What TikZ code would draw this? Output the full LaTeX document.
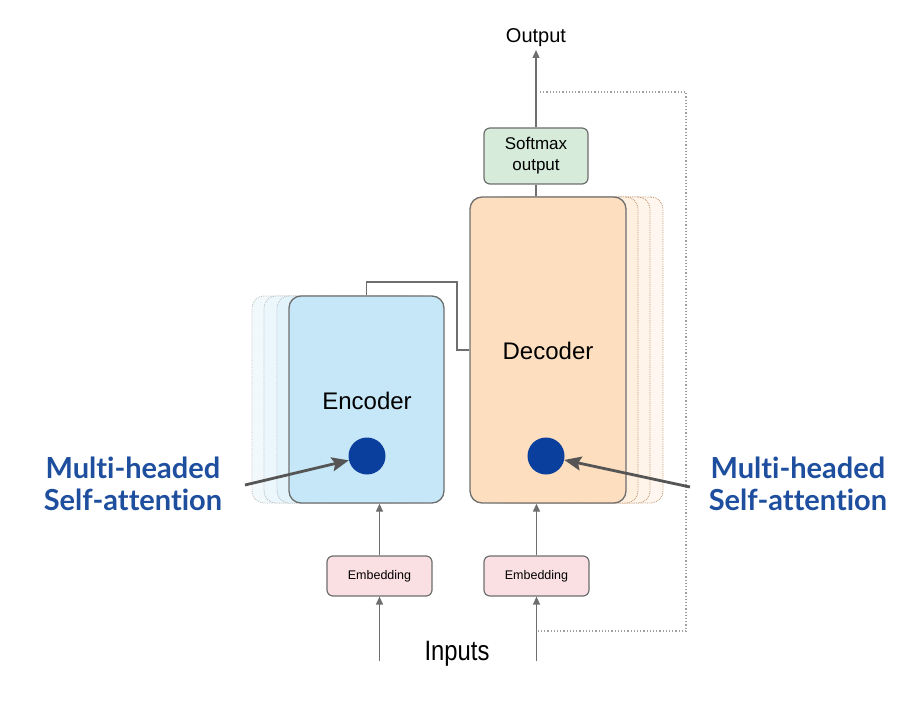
\documentclass[tikz,border=0pt]{standalone}
\usepackage{fontspec}
\setmainfont{Liberation Sans}
\newfontfamily\latofont{Lato}[Ligatures=NoCommon]
\usetikzlibrary{arrows.meta}
\definecolor{encfill}{HTML}{C6E7F7}
\definecolor{decfill}{HTML}{FDDFC0}
\definecolor{smfill}{HTML}{D6EBD9}
\definecolor{embfill}{HTML}{FADFE3}
\definecolor{boxline}{HTML}{6E6E6E}
\definecolor{dotline}{HTML}{A0A0A0}
\definecolor{dotblue}{HTML}{0B3F9E}
\definecolor{labblue}{HTML}{1E4E9E}
\definecolor{arrgray}{HTML}{555555}
\tikzset{
  bigbox/.style={draw=boxline, line width=1.3pt, rounded corners=12pt, inner sep=0pt},
  boxtext/.style={font=\fontsize{24}{28}\selectfont},
  shadowenc/.style={draw=dotline!70, densely dotted, line width=0.8pt, rounded corners=12pt, minimum width=155pt, minimum height=207pt, inner sep=0pt},
  shadowdec/.style={draw=orange!30!dotline, densely dotted, line width=0.8pt, rounded corners=12pt, minimum width=156pt, minimum height=306pt, inner sep=0pt},
  smallbox/.style={draw=boxline, line width=1.2pt, rounded corners=6pt, inner sep=0pt, align=center},
  attn/.style={circle, fill=dotblue, minimum size=37pt, inner sep=0pt},
  thinarrow/.style={draw=boxline, line width=1.3pt, -{Triangle[length=8pt,width=7pt]}},
  thinline/.style={draw=boxline, line width=1.3pt},
  bigarrow/.style={draw=arrgray, line width=2.8pt, -{Stealth[length=17pt,width=14pt,inset=3pt]}},
  feedback/.style={draw=dotline, dotted, line width=1.2pt},
  attnlabel/.style={text=labblue, font=\latofont\bfseries\fontsize{29}{32}\selectfont, align=center}
}
\begin{document}
\begin{tikzpicture}[x=1pt,y=-1pt]
\useasboundingbox (0,0) rectangle (920,703);
% encoder shadows
\node[shadowenc, fill=encfill!25] (es3) at (329.5,399.5) {};
\node[shadowenc, fill=encfill!35] (es2) at (341.5,399.5) {};
\node[shadowenc, fill=encfill!50] (es1) at (354.5,399.5) {};
% decoder shadows
\node[shadowdec, fill=decfill!25] (ds3) at (585,350) {};
\node[shadowdec, fill=decfill!35] (ds2) at (572,350) {};
\node[shadowdec, fill=decfill!50] (ds1) at (560,350) {};
% main boxes
\node[bigbox, fill=encfill, minimum width=155pt, minimum height=207pt] (enc) at (366.5,399.5) {};
\node[boxtext] (enctext) at (367,401) {Encoder};
\node[bigbox, fill=decfill, minimum width=156pt, minimum height=306pt] (dec) at (548,350) {};
\node[boxtext] (dectext) at (548,351) {Decoder};
% softmax
\node[smallbox, fill=smfill, minimum width=104pt, minimum height=56pt, font=\fontsize{17}{21}\selectfont] (sm) at (536,156) {Softmax\\output};
\node[font=\fontsize{20}{23}\selectfont] (out) at (536,38) {Output};
\coordinate (outend) at (536,50);
% embeddings
\node[smallbox, fill=embfill, minimum width=105pt, minimum height=40pt, font=\fontsize{12.5}{14}\selectfont] (emb1) at (379.5,576) {Embedding};
\node[smallbox, fill=embfill, minimum width=105pt, minimum height=40pt, font=\fontsize{12.5}{14}\selectfont] (emb2) at (536.5,576) {Embedding};
\node[font=\fontsize{28}{32}\selectfont, xscale=0.85] (inp) at (457,654) {Inputs};
\coordinate (in1) at (379.5,661);
\coordinate (in2) at (536.5,661);
% attention dots
\node[attn] (c1) at (367,456) {};
\node[attn] (c2) at (546,456) {};
% labels
\node[attnlabel] (l1) at (133,484) {Multi-headed\\Self-attention};
\node[attnlabel] (l2) at (798,484) {Multi-headed\\Self-attention};
\coordinate (a1) at (245,485);
\coordinate (a2) at (690,487);
% connectors
\coordinate (bend) at (457,282);
\draw[thinline] (enc.north) |- (bend) |- (dec.west);
\draw[thinarrow] (sm.north) -- (outend);
\draw[thinline] (dec.north -| sm.south) -- (sm.south);
\draw[thinarrow] (emb1.north) -- (emb1.north |- enc.south);
\draw[thinarrow] (emb2.north) -- (emb2.north |- dec.south);
\draw[thinarrow] (in1) -- (emb1.south);
\draw[thinarrow] (in2) -- (emb2.south);
% feedback dotted loop
\coordinate (fb1) at (540,92);
\coordinate (fb2) at (686,92);
\coordinate (fb3) at (686,631);
\coordinate (fb4) at (538,631);
\draw[feedback] (fb1) -- (fb2) -- (fb3) -- (fb4);
% attention arrows
\draw[bigarrow] (a1) -- (c1);
\draw[bigarrow] (a2) -- (c2);
\end{tikzpicture}
\end{document}
